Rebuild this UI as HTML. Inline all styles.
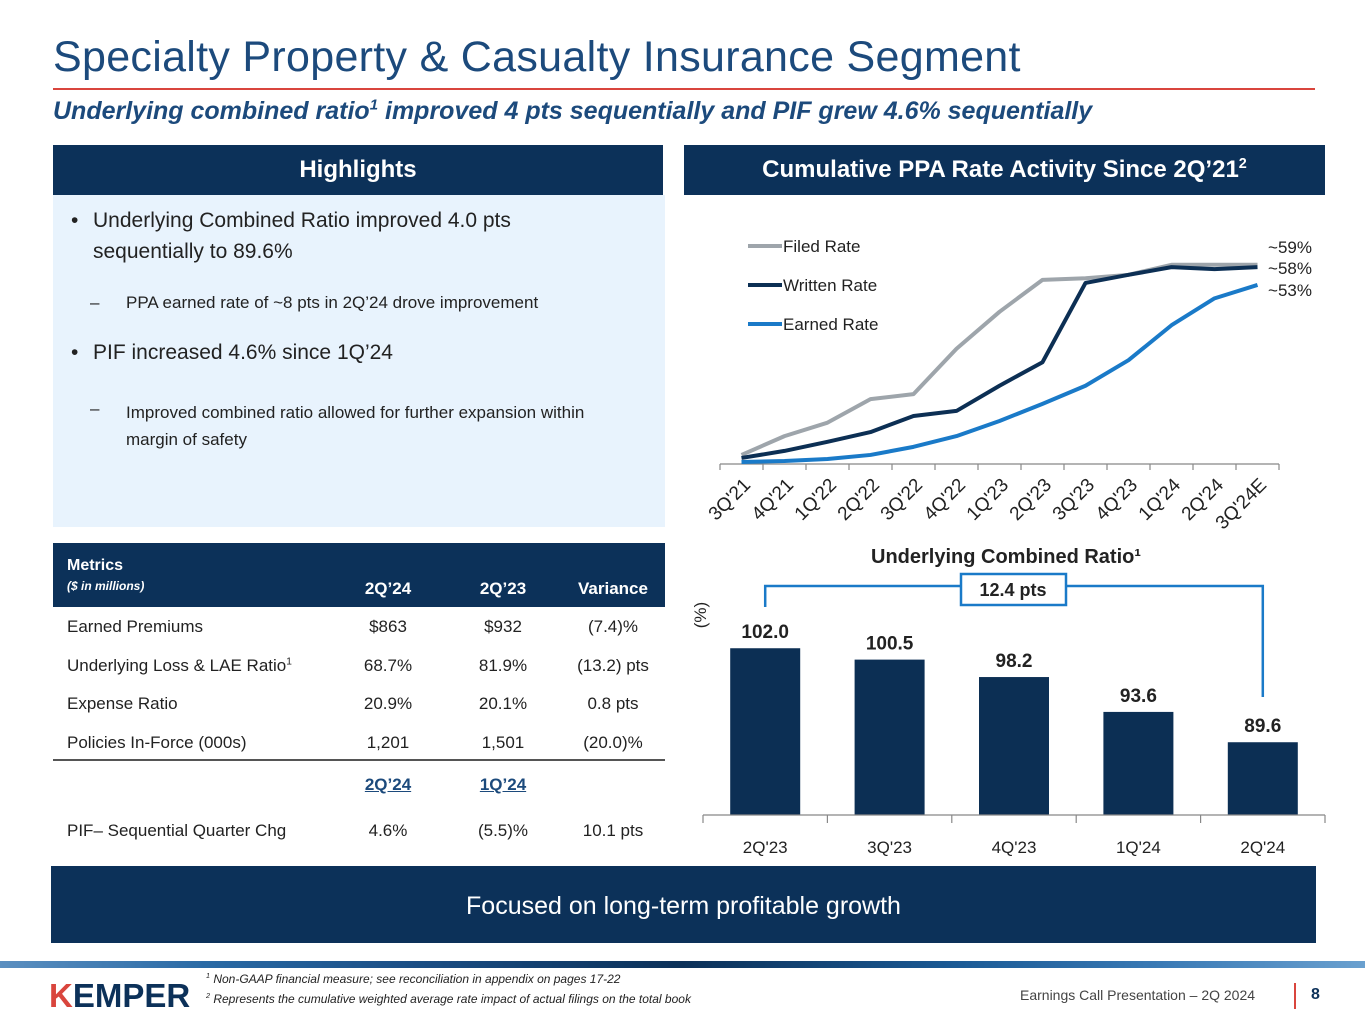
<!DOCTYPE html>
<html><head><meta charset="utf-8">
<style>
*{margin:0;padding:0;box-sizing:border-box}
body{width:1365px;height:1024px;background:#fff;font-family:"Liberation Sans",sans-serif;position:relative;overflow:hidden;color:#222}
.abs{position:absolute}
.hdr{background:#0c3159;color:#fff;font-weight:bold;font-size:24px;text-align:center;line-height:50px}
sup{font-size:60%;line-height:0}
</style></head><body>
<div class="abs" style="left:53px;top:33px;font-size:43px;color:#1c4a7c;letter-spacing:0.3px">Specialty Property &amp; Casualty Insurance Segment</div>
<div class="abs" style="left:53px;top:88px;width:1262px;height:2px;background:#d9453d"></div>
<div class="abs" style="left:53px;top:97px;font-size:25px;font-style:italic;font-weight:bold;color:#1c4a7c">Underlying combined ratio<sup>1</sup> improved 4 pts sequentially and PIF grew 4.6% sequentially</div>

<div class="abs hdr" style="left:53px;top:145px;width:610px;height:50px">Highlights</div>
<div class="abs" style="left:53px;top:195px;width:612px;height:332px;background:#e8f3fd;color:#222">
 <div class="abs" style="left:18px;top:10px;font-size:21px;line-height:31px">•</div>
 <div class="abs" style="left:40px;top:10px;width:500px;font-size:21px;line-height:31px">Underlying Combined Ratio improved 4.0 pts sequentially to 89.6%</div>
 <div class="abs" style="left:37px;top:98px;font-size:17px">–</div>
 <div class="abs" style="left:73px;top:98px;font-size:17px">PPA earned rate of ~8 pts in 2Q’24 drove improvement</div>
 <div class="abs" style="left:18px;top:146px;font-size:21px">•</div>
 <div class="abs" style="left:40px;top:146px;font-size:21px">PIF increased 4.6% since 1Q’24</div>
 <div class="abs" style="left:37px;top:204px;font-size:17px">–</div>
 <div class="abs" style="left:73px;top:204px;width:500px;font-size:17px;line-height:27px">Improved combined ratio allowed for further expansion within margin of safety</div>
</div>

<div class="abs" style="left:53px;top:543px;width:612px;height:310px">
 <div class="abs" style="left:0;top:0;width:612px;height:64px;background:#0c3159;color:#fff"></div>
 <div class="abs" style="left:14px;top:14px;color:#fff;font-weight:bold;font-size:16px">Metrics</div>
 <div class="abs" style="left:14px;top:36px;color:#fff;font-weight:bold;font-style:italic;font-size:12px">($ in millions)</div>
 <div class="abs" style="left:290px;top:36px;width:90px;text-align:center;color:#fff;font-weight:bold;font-size:17px">2Q’24</div>
 <div class="abs" style="left:405px;top:36px;width:90px;text-align:center;color:#fff;font-weight:bold;font-size:17px">2Q’23</div>
 <div class="abs" style="left:510px;top:36px;width:100px;text-align:center;color:#fff;font-weight:bold;font-size:17px">Variance</div>
 <div id="rows"></div>
 <div class="abs" style="left:0;top:216px;width:612px;height:2px;background:#555"></div>
 <div class="abs" style="left:290px;top:232px;width:90px;text-align:center;color:#1c4a7c;font-weight:bold;font-size:17px;text-decoration:underline">2Q’24</div>
 <div class="abs" style="left:405px;top:232px;width:90px;text-align:center;color:#1c4a7c;font-weight:bold;font-size:17px;text-decoration:underline">1Q’24</div>
 <div class="abs" style="left:14px;top:278px;font-size:17px">PIF– Sequential Quarter Chg</div>
 <div class="abs" style="left:290px;top:278px;width:90px;text-align:center;font-size:17px">4.6%</div>
 <div class="abs" style="left:405px;top:278px;width:90px;text-align:center;font-size:17px">(5.5)%</div>
 <div class="abs" style="left:510px;top:278px;width:100px;text-align:center;font-size:17px">10.1 pts</div>
</div>

<div class="abs hdr" style="left:684px;top:145px;width:641px;height:50px">Cumulative PPA Rate Activity Since 2Q’21<sup>2</sup></div>

<svg class="abs" style="left:684px;top:200px" width="641" height="360" id="lc"></svg>
<svg class="abs" style="left:684px;top:535px" width="660" height="330" id="bc"></svg>

<div class="abs" style="left:51px;top:866px;width:1265px;height:77px;background:#0c3159;color:#fff;font-size:25px;text-align:center;line-height:80px">Focused on long-term profitable growth</div>
<div class="abs" style="left:0;top:961px;width:1365px;height:7px;background:linear-gradient(90deg,#5b8fc0,#2a6aa5 15%,#1b4f86 30%,#0c3159 50%,#1b5a95 70%,#3a7ab5 85%,#6aa0cf)"></div>
<div class="abs" style="left:49px;top:977px;font-size:33px;font-weight:bold;color:#0c3159"><span style="color:#d9453d">K</span>EMPER</div>
<div class="abs" style="left:206px;top:969px;font-size:12px;font-style:italic;line-height:20px;color:#222"><sup>1</sup> Non-GAAP financial measure; see reconciliation in appendix on pages 17-22<br><sup>2</sup> Represents the cumulative weighted average rate impact of actual filings on the total book</div>
<div class="abs" style="left:1020px;top:987px;font-size:14px;color:#444">Earnings Call Presentation – 2Q 2024</div>
<div class="abs" style="left:1294px;top:983px;width:2px;height:26px;background:#d9453d"></div>
<div class="abs" style="left:1311px;top:986px;font-size:16px;font-weight:bold;color:#0c3159">8</div>

<script>
const NS="http://www.w3.org/2000/svg";
function mk(p,t,a,txt){const e=document.createElementNS(NS,t);for(const k in a)e.setAttribute(k,a[k]);if(txt!=null)e.textContent=txt;p.appendChild(e);return e;}

// Table rows
const rowLabels=["Earned Premiums","Underlying Loss &amp; LAE Ratio<sup>1</sup>","Expense Ratio","Policies In-Force (000s)"];
const rowA=["$863","68.7%","20.9%","1,201"];
const rowB=["$932","81.9%","20.1%","1,501"];
const rowV=["(7.4)%","(13.2) pts","0.8 pts","(20.0)%"];
let h="";
rowLabels.forEach((l,i)=>{const t=74+i*38.5;
h+=`<div class="abs" style="left:14px;top:${t}px;font-size:17px">${l}</div><div class="abs" style="left:290px;top:${t}px;width:90px;text-align:center;font-size:17px">${rowA[i]}</div><div class="abs" style="left:405px;top:${t}px;width:90px;text-align:center;font-size:17px">${rowB[i]}</div><div class="abs" style="left:510px;top:${t}px;width:100px;text-align:center;font-size:17px">${rowV[i]}</div>`;});
document.getElementById('rows').innerHTML=h;

// Line chart
const quarters=["3Q'21","4Q'21","1Q'22","2Q'22","3Q'22","4Q'22","1Q'23","2Q'23","3Q'23","4Q'23","1Q'24","2Q'24","3Q'24E"];
const filed=[2.4,8,12,19,20.5,34,45,54.5,55,56,59,59,59];
const written=[1.5,3.6,6.3,9.2,14,15.5,23,30,53.6,56,58.3,57.7,58.3];
const earned=[0.3,0.6,1.2,2.4,4.8,8,12.5,17.6,23,30.6,41,49,53];
const endLabels=["~59%","~58%","~53%"];
const lc=document.getElementById('lc');
const x0=720-684, step=43;
const lx=i=>x0+step*(i+0.5);
const ly=v=>263-v*3.36;
mk(lc,'line',{x1:x0,y1:264,x2:x0+step*13,y2:264,stroke:'#888','stroke-width':1.2});
for(let i=0;i<=13;i++){mk(lc,'line',{x1:x0+step*i,y1:264,x2:x0+step*i,y2:270,stroke:'#888','stroke-width':1.2});}
quarters.forEach((q,i)=>{const ax=lx(i)+10, ay=286;
const t=mk(lc,'text',{x:ax,y:ay,'text-anchor':'end','font-size':19,fill:'#222',transform:`rotate(-45 ${ax} ${ay})`},q);

});
const series=[[filed,'#9ea5ab','filed-rate-line'],[written,'#0c2f54','written-rate-line'],[earned,'#1a7ac8','earned-rate-line']];
series.forEach(([d,c,n])=>{const p=mk(lc,'polyline',{points:d.map((v,i)=>lx(i)+','+ly(v)).join(' '),fill:'none',stroke:c,'stroke-width':4,'stroke-linejoin':'round'});

});
const legendNames=["Filed Rate","Written Rate","Earned Rate"];
legendNames.forEach((n,i)=>{const y=46+i*39;
mk(lc,'line',{x1:64,y1:y,x2:98,y2:y,stroke:series[i][1],'stroke-width':4});
const t=mk(lc,'text',{x:99,y:y+6,'font-size':17,fill:'#222'},n);

});
const elY=[47,68,90];
endLabels.forEach((l,i)=>{const t=mk(lc,'text',{x:628,y:elY[i]+6,'text-anchor':'end','font-size':17,fill:'#222'},l);

});

// Bar chart
const barCats=["2Q'23","3Q'23","4Q'23","1Q'24","2Q'24"];
const barVals=[102.0,100.5,98.2,93.6,89.6];
const bc=document.getElementById('bc');
const bx0=703-684, bstep=124.4, base=280, yMin=80, ppu=7.58;
const by=v=>base-(v-yMin)*ppu;
mk(bc,'text',{x:322,y:28,'text-anchor':'middle','font-size':20,'font-weight':'bold',fill:'#222'},"Underlying Combined Ratio¹");
mk(bc,'text',{x:22,y:80,'text-anchor':'middle','font-size':17,fill:'#222',transform:'rotate(-90 22 80)'},"(%)");
barCats.forEach((c,i)=>{const cx=bx0+bstep*(i+0.5);
const r=mk(bc,'rect',{x:cx-35,y:by(barVals[i]),width:70,height:base-by(barVals[i]),fill:'#0c2f54'});


const t=mk(bc,'text',{x:cx,y:by(barVals[i])-10,'text-anchor':'middle','font-size':19,'font-weight':'bold',fill:'#222'},barVals[i].toFixed(1));


const l=mk(bc,'text',{x:cx,y:318,'text-anchor':'middle','font-size':17,fill:'#222'},c);

});
mk(bc,'line',{x1:bx0,y1:base,x2:bx0+bstep*5,y2:base,stroke:'#888','stroke-width':1.2});
for(let i=0;i<=5;i++)mk(bc,'line',{x1:bx0+bstep*i,y1:base,x2:bx0+bstep*i,y2:288,stroke:'#888','stroke-width':1.2});
const c1=bx0+bstep*0.5,c5=bx0+bstep*4.5;
mk(bc,'polyline',{points:`${c1},72 ${c1},51 ${c5},51 ${c5},162`,fill:'none',stroke:'#1a7ac8','stroke-width':2.5});
mk(bc,'rect',{x:277,y:39,width:105,height:31,fill:'#fff',stroke:'#1a7ac8','stroke-width':2.5});
mk(bc,'text',{x:329,y:61,'text-anchor':'middle','font-size':18,'font-weight':'bold',fill:'#222'},"12.4 pts");
</script>
</body></html>
